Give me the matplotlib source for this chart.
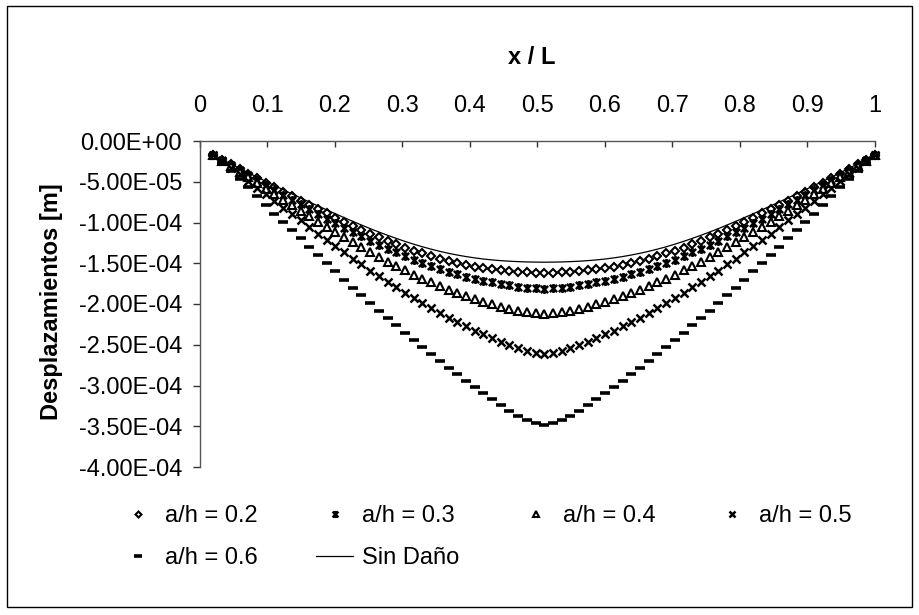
import numpy as np
import matplotlib.pyplot as plt
from matplotlib.path import Path
from matplotlib.patches import Rectangle
from matplotlib.ticker import FixedLocator, FuncFormatter

plt.rcParams['font.family'] = ['Liberation Sans', 'DejaVu Sans']

# 77 evenly spaced stations along the beam
x_over_L = np.linspace(0.02, 1.0, 77)

# displacements, micrometres downwards
sin_dano = [17.0, 22.6, 28.2, 33.6, 39.0, 44.3, 49.5, 54.7, 59.8, 64.8, 69.8, 74.8, 79.7,
            84.5, 89.3, 94.0, 98.6, 103.1, 107.5, 111.7, 115.7, 119.5, 123.2, 126.6, 129.8,
            132.7, 135.4, 137.8, 139.9, 141.8, 143.4, 144.8, 145.9, 146.8, 147.5, 148.0,
            148.4, 148.6, 148.7,
            148.6, 148.4, 148.0, 147.5, 146.8, 145.9, 144.8, 143.4, 141.8, 139.9, 137.8,
            135.4, 132.7, 129.8, 126.6, 123.2, 119.5, 115.7, 111.7, 107.5, 103.1, 98.6,
            94.0, 89.3, 84.5, 79.7, 74.8, 69.8, 64.8, 59.8, 54.7, 49.5, 44.3, 39.0, 33.6,
            28.2, 22.6, 17.0]
ah_02 = [17.0, 22.9, 28.8, 34.5, 40.2, 45.9, 51.4, 57.0, 62.4, 67.8, 73.1, 78.5, 83.7,
         88.9, 94.0, 99.1, 104.0, 108.8, 113.6, 118.1, 122.5, 126.6, 130.7, 134.4, 138.0,
         141.3, 144.4, 147.2, 149.7, 152.0, 154.0, 155.8, 157.3, 158.6, 159.8, 160.6,
         161.3, 161.8, 162.0,
         161.8, 161.3, 160.6, 159.8, 158.6, 157.3, 155.8, 154.0, 152.0, 149.7, 147.2,
         144.4, 141.3, 138.0, 134.4, 130.7, 126.6, 122.5, 118.1, 113.6, 108.8, 104.0,
         99.1, 94.0, 88.9, 83.7, 78.5, 73.1, 67.8, 62.4, 57.0, 51.4, 45.9, 40.2, 34.5,
         28.8, 22.9, 17.0]
ah_03 = [17.0, 23.3, 29.6, 35.8, 41.9, 48.1, 54.1, 60.3, 66.2, 72.0, 77.8, 83.8, 89.5,
         95.1, 100.8, 106.3, 111.8, 117.0, 122.3, 127.3, 132.1, 136.8, 141.3, 145.6, 149.8,
         153.5, 157.2, 160.5, 163.6, 166.5, 169.1, 171.4, 173.6, 175.5, 177.3, 178.6,
         179.8, 180.6, 181.0,
         180.6, 179.8, 178.6, 177.3, 175.5, 173.6, 171.4, 169.1, 166.5, 163.6, 160.5,
         157.2, 153.5, 149.8, 145.6, 141.3, 136.8, 132.1, 127.3, 122.3, 117.0, 111.8,
         106.3, 100.8, 95.1, 89.5, 83.8, 77.8, 72.0, 66.2, 60.3, 54.1, 48.1, 41.9, 35.8,
         29.6, 23.3, 17.0]
ah_04 = [17.0, 24.0, 31.0, 37.8, 44.7, 51.8, 58.6, 65.6, 72.3, 78.9, 85.4, 92.3, 98.9,
         105.3, 111.8, 118.1, 124.4, 130.4, 136.6, 142.3, 147.9, 153.3, 158.7, 163.9, 168.9,
         173.5, 178.1, 182.3, 186.3, 190.2, 193.8, 197.0, 200.2, 203.1, 205.8, 208.0,
         209.9, 211.3, 212.0,
         211.3, 209.9, 208.0, 205.8, 203.1, 200.2, 197.0, 193.8, 190.2, 186.3, 182.3,
         178.1, 173.5, 168.9, 163.9, 158.7, 153.3, 147.9, 142.3, 136.6, 130.4, 124.4,
         118.1, 111.8, 105.3, 98.9, 92.3, 85.4, 78.9, 72.3, 65.6, 58.6, 51.8, 44.7, 37.8,
         31.0, 24.0, 17.0]
ah_05 = [17.0, 25.1, 33.1, 41.1, 49.1, 57.7, 65.6, 74.0, 81.9, 89.7, 97.5, 105.9, 113.7,
         121.5, 129.2, 136.8, 144.4, 151.5, 159.1, 165.9, 172.8, 179.5, 186.2, 192.7, 199.2,
         205.0, 211.2, 216.8, 222.2, 227.6, 232.8, 237.3, 242.3, 246.6, 250.9, 254.5,
         257.4, 259.8, 261.0,
         259.8, 257.4, 254.5, 250.9, 246.6, 242.3, 237.3, 232.8, 227.6, 222.2, 216.8,
         211.2, 205.0, 199.2, 192.7, 186.2, 179.5, 172.8, 165.9, 159.1, 151.5, 144.4,
         136.8, 129.2, 121.5, 113.7, 105.9, 97.5, 89.7, 81.9, 74.0, 65.6, 57.7, 49.1, 41.1,
         33.1, 25.1, 17.0]
ah_06 = [17, 27, 37, 47, 57, 68, 78, 89, 99, 109, 119, 130, 140, 150, 160, 170, 180, 189,
         199, 208, 217, 226, 235, 244, 253, 261, 270, 278, 286, 294, 302, 309, 317, 324,
         331, 337, 342, 346, 348,
         346, 342, 337, 331, 324, 317, 309, 302, 294, 286, 278, 270, 261, 253, 244, 235,
         226, 217, 208, 199, 189, 180, 170, 160, 150, 140, 130, 119, 109, 99, 89, 78, 68,
         57, 47, 37, 27, 17]

x_ticks = [0, 0.1, 0.2, 0.3, 0.4, 0.5, 0.6, 0.7, 0.8, 0.9, 1.0]
y_ticks = [0, -5e-5, -1e-4, -1.5e-4, -2e-4, -2.5e-4, -3e-4, -3.5e-4, -4e-4]


def to_m(vals):
    return -np.asarray(vals, dtype=float) * 1e-6


# Excel-style "star": an x with a vertical bar through it
star = Path([(-1, -1), (1, 1), (-1, 1), (1, -1), (0, -1.25), (0, 1.25)],
            [Path.MOVETO, Path.LINETO] * 3)

W, H = 920, 615
fig = plt.figure(figsize=(W / 100, H / 100), dpi=100)
ax = fig.add_axes([200 / W, 1 - 467 / H, 675 / W, 326 / H])

common = dict(linestyle='none', color='black', clip_on=False)
h02, = ax.plot(x_over_L, to_m(ah_02), marker='D', ms=3.8, mew=1.5, mfc='white',
               label='a/h = 0.2', **common)
h03, = ax.plot(x_over_L, to_m(ah_03), marker=star, ms=6.5, mew=1.8,
               label='a/h = 0.3', **common)
h04, = ax.plot(x_over_L, to_m(ah_04), marker='^', ms=5.8, mew=1.5, mfc='white',
               label='a/h = 0.4', **common)
h05, = ax.plot(x_over_L, to_m(ah_05), marker='x', ms=6, mew=1.8,
               label='a/h = 0.5', **common)
h06, = ax.plot(x_over_L, to_m(ah_06), marker='_', ms=7, mew=2.6,
               label='a/h = 0.6', **common)
hsd, = ax.plot(x_over_L, to_m(sin_dano), color='black', lw=0.9, label='Sin Daño',
               clip_on=False)

ax.set_xlim(0, 1)
ax.set_ylim(-4e-4, 0)
ax.xaxis.set_major_locator(FixedLocator(x_ticks))
ax.yaxis.set_major_locator(FixedLocator(y_ticks))
ax.xaxis.set_major_formatter(FuncFormatter(lambda v, p: f'{round(v, 1):g}'))
ax.yaxis.set_major_formatter(FuncFormatter(lambda v, p: f'{v + 0.0:.2E}'))
ax.xaxis.set_ticks_position('top')

for side in ('right', 'bottom'):
    ax.spines[side].set_visible(False)
for side in ('left', 'top'):
    ax.spines[side].set_color('#555555')
    ax.spines[side].set_linewidth(1.0)

ax.tick_params(axis='x', direction='in', length=4.5, width=1, color='#333333',
               labelsize=17, pad=17)
ax.tick_params(axis='y', direction='out', length=5, width=1, color='#333333',
               labelsize=17, pad=8)

fig.text(532 / W, 1 - 57 / H, 'x / L', fontsize=17, fontweight='bold',
         ha='center', va='center')
fig.text(51.5 / W, 1 - 302 / H, 'Desplazamientos [m]', fontsize=17, fontweight='bold',
         rotation=90, ha='center', va='center')

# legend: matplotlib fills columns first, so order handles accordingly
ax.legend(handles=[h02, h06, h03, hsd, h04, h05], ncol=4, loc='upper left',
          bbox_to_anchor=(119 / W, 1 - 505 / H), bbox_transform=fig.transFigure,
          frameon=False, fontsize=17, handlelength=1.6, handletextpad=0.35,
          columnspacing=2.45, labelspacing=0.85, borderpad=0, borderaxespad=0,
          markerscale=0.8)

fig.patches.append(Rectangle((7 / W, 1 - 607 / H), 905 / W, 601 / H,
                             transform=fig.transFigure, fill=False,
                             edgecolor='black', lw=1))

fig.savefig('out.png', dpi=100)
